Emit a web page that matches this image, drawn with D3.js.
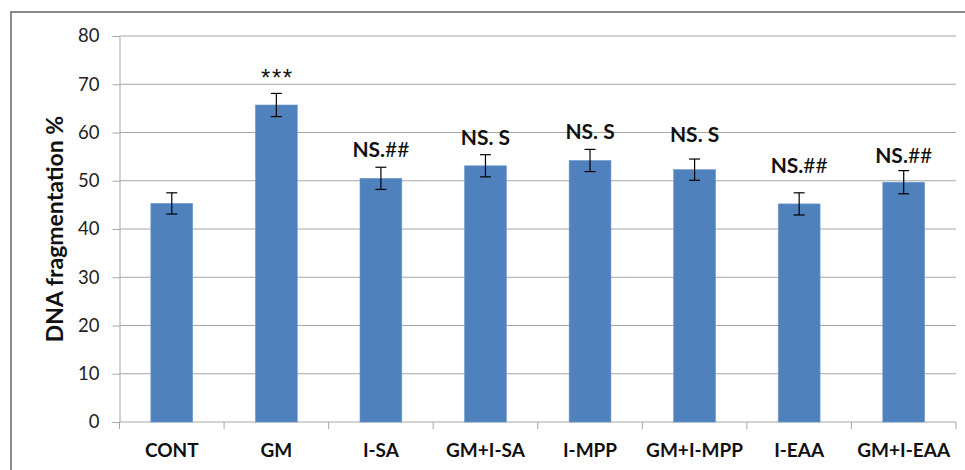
<!DOCTYPE html>
<html>
<head>
<meta charset="utf-8">
<script src="https://cdn.jsdelivr.net/npm/d3@7/dist/d3.min.js"></script>
<style>
  html, body { margin: 0; padding: 0; background: #fff; }
  svg { display: block; }
</style>
</head>
<body>
<svg id="chart" width="965" height="470"></svg>
<script>
// Data
const categories = ["CONT", "GM", "I-SA", "GM+I-SA", "I-MPP", "GM+I-MPP", "I-EAA", "GM+I-EAA"];
const values = [45.3, 65.7, 50.5, 53.1, 54.2, 52.3, 45.2, 49.7];
const errors = [2.2, 2.4, 2.3, 2.3, 2.3, 2.2, 2.3, 2.4];
const labelMain = ["", "", "NS.", "NS. S", "NS. S", "NS. S", "NS.", "NS."];
const labelExtra = ["", "", "##", "", "", "", "##", "##"];
const starLabel = ["", "***", "", "", "", "", "", ""];
const yTicks = [0, 10, 20, 30, 40, 50, 60, 70, 80];
const yTitle = "DNA fragmentation %";

// Layout
const plot = { left: 119.5, right: 956, top: 36, bottom: 422 };
// gap (px) between the top of each error bar and its annotation baseline
const labelGap = [0, 7.5, 10, 10, 10, 17.5, 19.5, 8];

const svg = d3.select("#chart");
const font = "Lato, 'Open Sans', sans-serif";

// outer chart-area frame
svg.append("rect")
  .attr("x", 11).attr("y", 12)
  .attr("width", 1000).attr("height", 500)
  .attr("fill", "none").attr("stroke", "#8a8a8a").attr("stroke-width", 2);

const x = d3.scaleBand()
  .domain(categories)
  .range([plot.left, plot.right])
  .paddingInner(0.6)
  .paddingOuter(0.3);

const y = d3.scaleLinear().domain([0, 80]).range([plot.bottom, plot.top]);

// gridlines + y axis
const yAxis = d3.axisLeft(y).tickValues(yTicks).tickSize(7).tickPadding(13);
const gy = svg.append("g").attr("transform", `translate(${plot.left},0)`).call(yAxis);
gy.select(".domain").attr("stroke", "#a6a6a6");
gy.selectAll(".tick line").attr("stroke", "#a6a6a6");
gy.selectAll(".tick text")
  .attr("font-family", font).attr("font-size", 18.5).attr("fill", "#222");

svg.append("g").selectAll("line")
  .data(yTicks.filter(t => t > 0))
  .join("line")
  .attr("x1", plot.left).attr("x2", plot.right)
  .attr("y1", d => y(d)).attr("y2", d => y(d))
  .attr("stroke", "#a6a6a6").attr("stroke-width", 1);

// x axis with ticks at category boundaries
svg.append("line")
  .attr("x1", plot.left).attr("x2", plot.right)
  .attr("y1", y(0)).attr("y2", y(0))
  .attr("stroke", "#a6a6a6");
const step = x.step();
const bounds = d3.range(categories.length + 1).map(i => plot.left + i * step);
svg.append("g").selectAll("line")
  .data(bounds)
  .join("line")
  .attr("x1", d => d).attr("x2", d => d)
  .attr("y1", y(0)).attr("y2", y(0) + 7)
  .attr("stroke", "#a6a6a6");

svg.append("g").selectAll("text")
  .data(categories)
  .join("text")
  .attr("x", d => x(d) + x.bandwidth() / 2)
  .attr("y", 456.5)
  .attr("text-anchor", "middle")
  .attr("font-family", font).attr("font-weight", "bold").attr("font-size", 19)
  .attr("fill", "#111")
  .text(d => d);

// bars
svg.append("g").selectAll("rect")
  .data(categories)
  .join("rect")
  .attr("x", d => x(d))
  .attr("width", x.bandwidth())
  .attr("y", (d, i) => y(values[i]))
  .attr("height", (d, i) => y(0) - y(values[i]))
  .attr("fill", "#4f81bd")
  .attr("stroke", "#6d97cc").attr("stroke-width", 0.6);

// error bars
const eb = svg.append("g").attr("stroke", "#000").attr("stroke-width", 1.2);
categories.forEach((c, i) => {
  const cx = x(c) + x.bandwidth() / 2;
  const hi = y(values[i] + errors[i]), lo = y(values[i] - errors[i]);
  eb.append("line").attr("x1", cx).attr("x2", cx).attr("y1", hi).attr("y2", lo);
  eb.append("line").attr("x1", cx - 5.5).attr("x2", cx + 5.5).attr("y1", hi).attr("y2", hi);
  eb.append("line").attr("x1", cx - 5.5).attr("x2", cx + 5.5).attr("y1", lo).attr("y2", lo);
});

// significance annotations
categories.forEach((c, i) => {
  const cx = x(c) + x.bandwidth() / 2;
  const ty = y(values[i] + errors[i]) - labelGap[i];
  if (labelMain[i] || labelExtra[i]) {
    const t = svg.append("text")
      .attr("x", cx).attr("y", ty)
      .attr("text-anchor", "middle")
      .attr("font-family", font).attr("font-size", 21).attr("fill", "#111");
    if (labelMain[i]) t.append("tspan").attr("font-weight", "bold").text(labelMain[i]);
    if (labelExtra[i]) t.append("tspan").attr("font-weight", "normal").text(labelExtra[i]);
  }
  if (starLabel[i]) {
    svg.append("text")
      .attr("x", cx + 1).attr("y", ty)
      .attr("text-anchor", "middle")
      .attr("font-family", "'Liberation Sans', Arial, sans-serif")
      .attr("font-size", 24).attr("letter-spacing", 1.5).attr("fill", "#111")
      .text(starLabel[i]);
  }
});

// y axis title
svg.append("text")
  .attr("transform", "translate(63,229) rotate(-90)")
  .attr("text-anchor", "middle")
  .attr("font-family", font).attr("font-weight", "bold").attr("font-size", 23)
  .attr("fill", "#111")
  .text(yTitle);
</script>
</body>
</html>
